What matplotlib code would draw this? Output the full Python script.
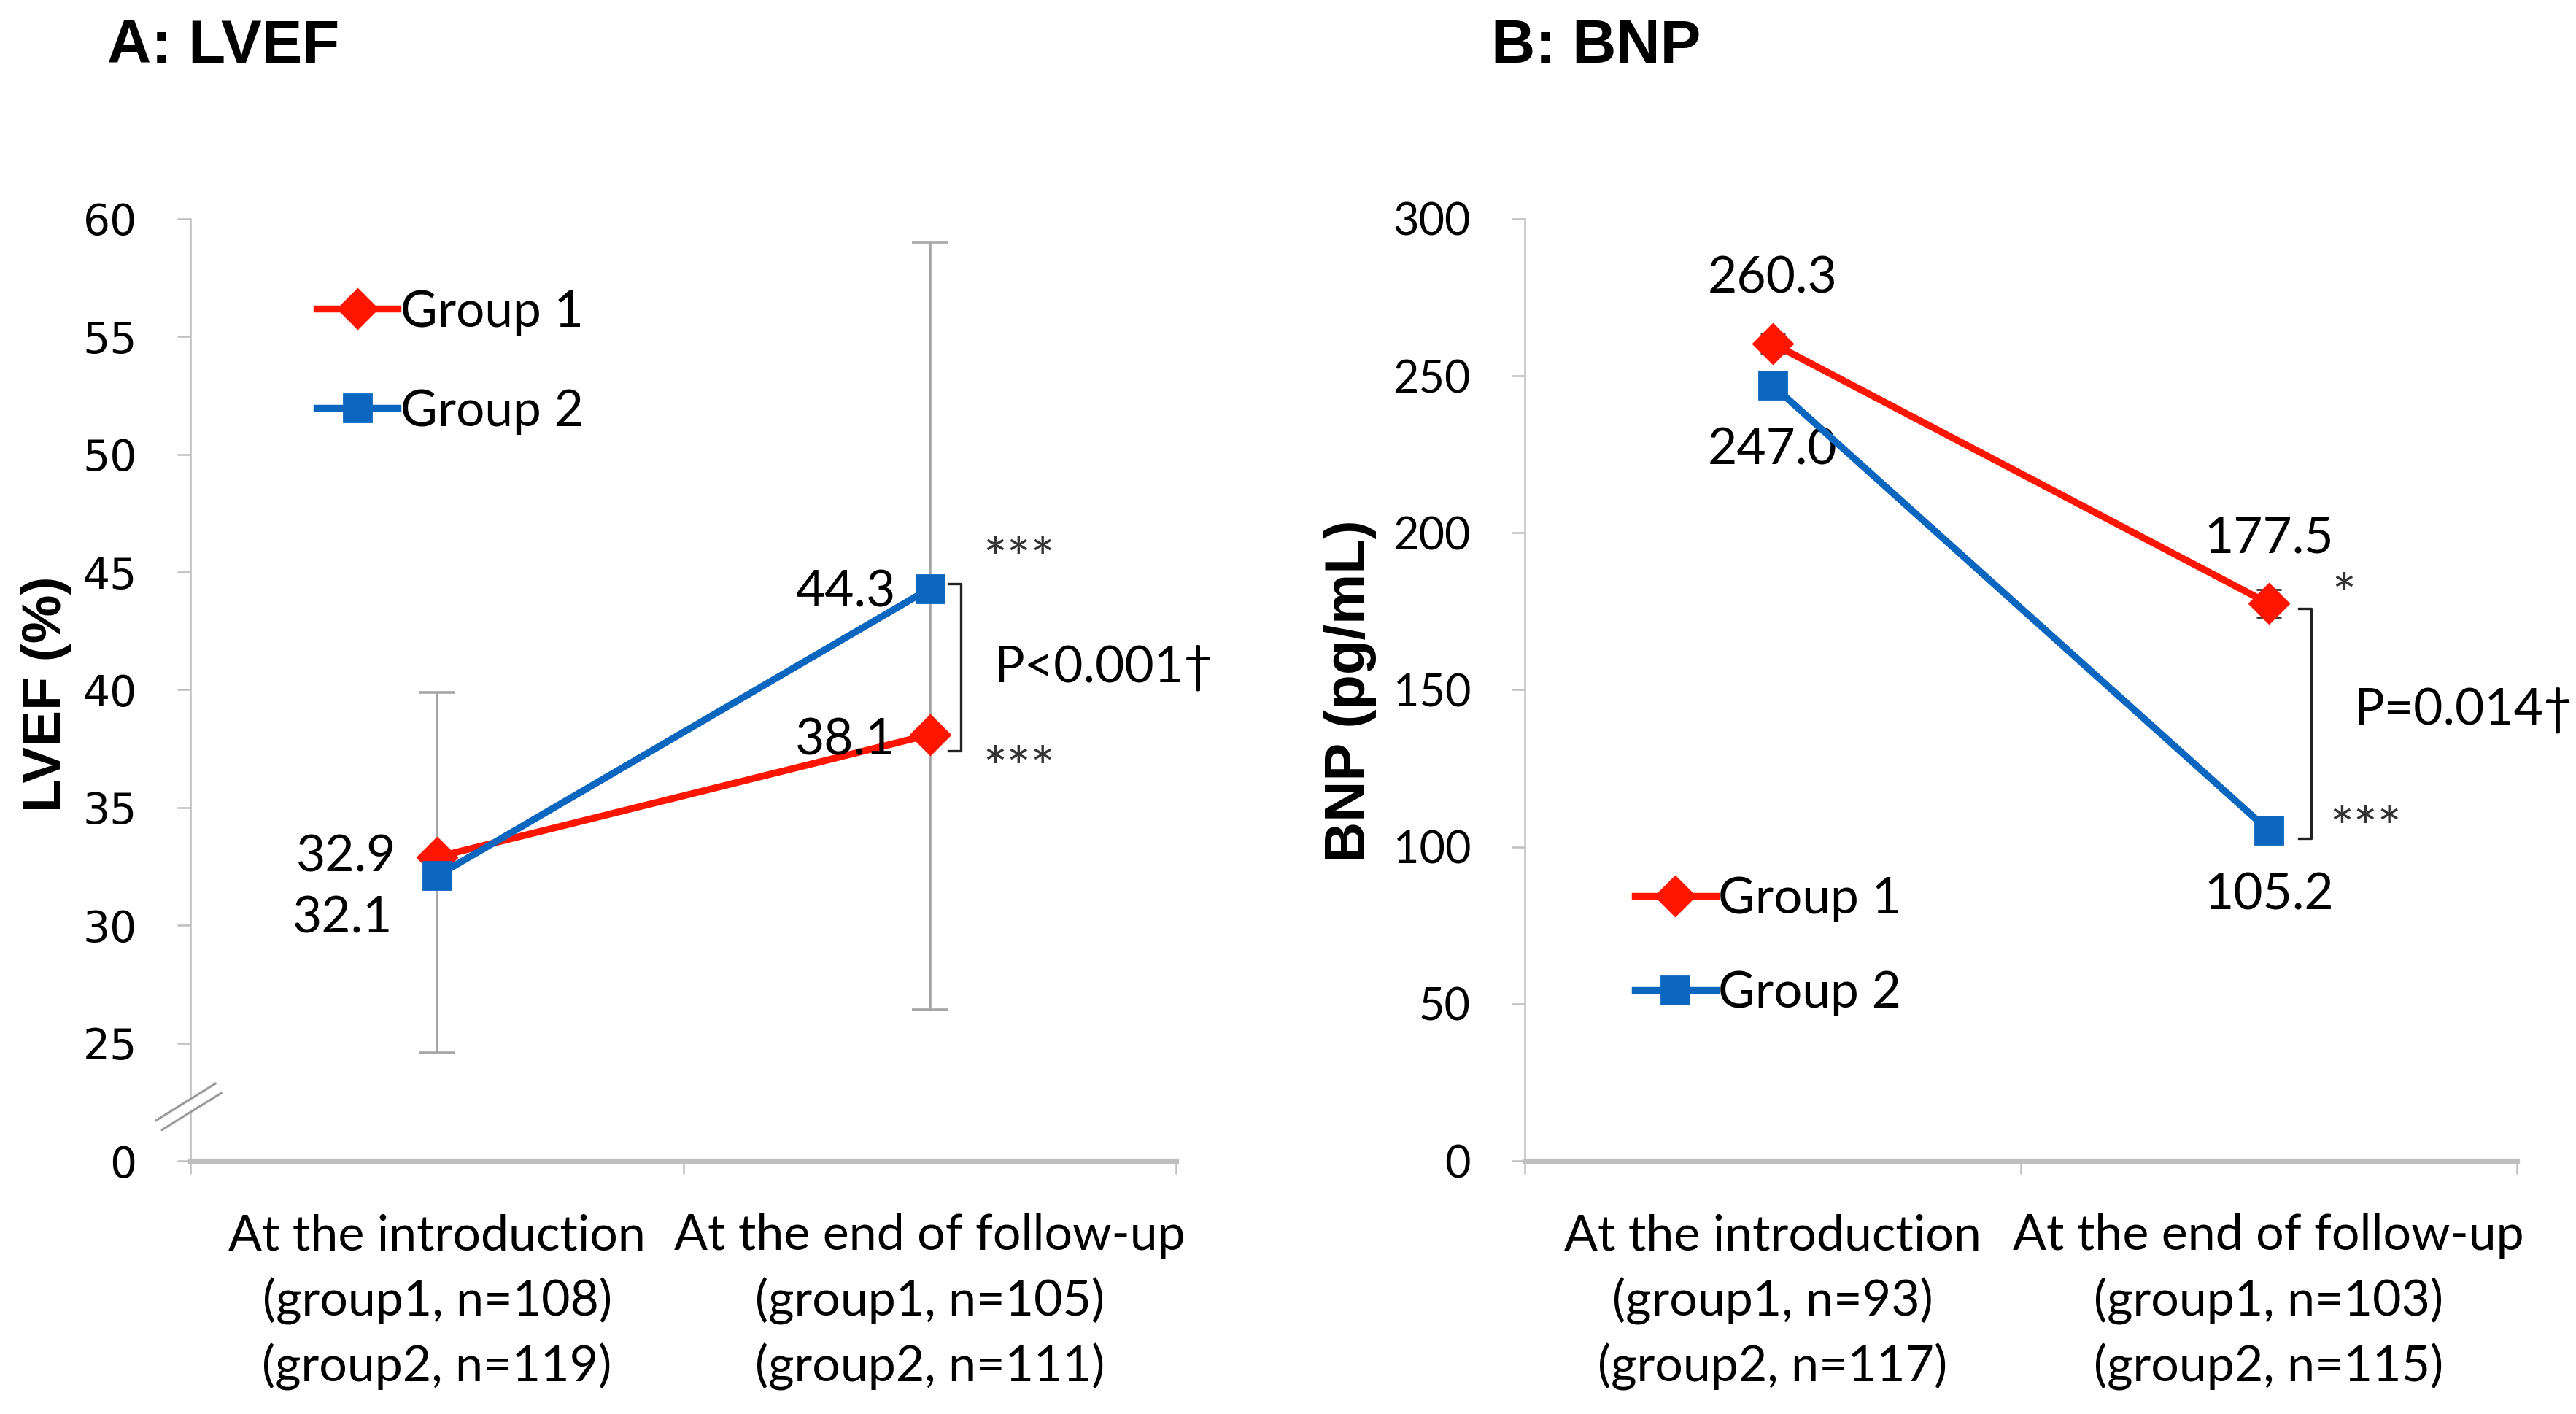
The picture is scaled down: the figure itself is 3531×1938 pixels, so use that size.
import matplotlib
matplotlib.use('Agg')
import matplotlib.pyplot as plt
import numpy as np

# categorias e valores
cats_lvef = ["At the introduction\n(group1, n=108)\n(group2, n=119)",
             "At the end of follow-up\n(group1, n=105)\n(group2, n=111)"]
cats_bnp = ["At the introduction\n(group1, n=93)\n(group2, n=117)",
            "At the end of follow-up\n(group1, n=103)\n(group2, n=115)"]

lvef_g1 = [32.9, 38.1]
lvef_g2 = [32.1, 44.3]
lvef_err_low = [24.6, 26.4]
lvef_err_high = [39.9, 59.0]

bnp_g1 = [260.3, 177.5]
bnp_g2 = [247.0, 105.2]
bnp_err_g1 = [3.0, 4.5]
bnp_err_g2 = [3.0, 4.2]

lvef_ticks = [20, 25, 30, 35, 40, 45, 50, 55, 60]
lvef_ticklabels = ["0", "25", "30", "35", "40", "45", "50", "55", "60"]
bnp_ticks = [0, 50, 100, 150, 200, 250, 300]

RED = "#FF1500"
BLUE = "#0A66BE"
GRAY = "#BFBFBF"
LBL = "Lato"

fig = plt.figure(figsize=(17.655, 9.69), dpi=200)
ax1 = fig.add_axes([0.074, 0.179, 0.3826, 0.6663])
ax2 = fig.add_axes([0.5918, 0.179, 0.3852, 0.6663])

x = np.arange(2)


def style_axes(ax, cats):
    for s in ["top", "right"]:
        ax.spines[s].set_visible(False)
    ax.spines["left"].set_color(GRAY)
    ax.spines["left"].set_linewidth(0.9)
    ax.spines["bottom"].set_color(GRAY)
    ax.spines["bottom"].set_linewidth(2.6)
    ax.set_xlim(-0.5, 1.5)
    ax.set_xticks([-0.5, 0.5, 1.5])
    ax.set_xticklabels([])
    ax.set_xticks([0, 1], minor=True)
    ax.set_xticklabels(cats, minor=True, family=LBL, fontsize=24.5, linespacing=1.48)
    ax.tick_params(axis="x", which="major", direction="out", length=6.5, width=0.9, color=GRAY)
    ax.tick_params(axis="x", which="minor", length=0, pad=26)
    ax.tick_params(axis="y", direction="out", length=6.5, width=0.9, color=GRAY, pad=20)


# ---- A: LVEF ----
style_axes(ax1, cats_lvef)
mid = [(a + b) / 2 for a, b in zip(lvef_err_low, lvef_err_high)]
half = [(b - a) / 2 for a, b in zip(lvef_err_low, lvef_err_high)]
ax1.errorbar(x, mid, yerr=half, fmt="none", ecolor="#A6A6A6", elinewidth=1.3,
             capsize=9, capthick=1.3, zorder=1)
l1, = ax1.plot(x, lvef_g1, color=RED, lw=3.4, marker="D", markersize=14, label="Group 1", zorder=3)
l2, = ax1.plot(x, lvef_g2, color=BLUE, lw=3.4, marker="s", markersize=14, label="Group 2", zorder=4)
ax1.set_ylim(20, 60)
ax1.set_yticks(lvef_ticks)
ax1.set_yticklabels(lvef_ticklabels, fontsize=21, family="DejaVu Sans")

ax1.annotate(f"{lvef_g1[0]:.1f}", (0, lvef_g1[0]), xytext=(-20, 0), textcoords="offset points",
             ha="right", va="center", fontsize=25, family=LBL)
ax1.annotate(f"{lvef_g2[0]:.1f}", (0, lvef_g2[0]), xytext=(-22, -21), textcoords="offset points",
             ha="right", va="center", fontsize=25, family=LBL)
ax1.annotate(f"{lvef_g2[1]:.1f}", (1, lvef_g2[1]), xytext=(-17, -2), textcoords="offset points",
             ha="right", va="center", fontsize=25, family=LBL)
ax1.annotate(f"{lvef_g1[1]:.1f}", (1, lvef_g1[1]), xytext=(-17, -3), textcoords="offset points",
             ha="right", va="center", fontsize=25, family=LBL)

# bracket + p value
top, bot = lvef_g2[1] + 0.2, lvef_g1[1] - 0.7
ax1.plot([1.037, 1.063, 1.063, 1.037], [top, top, bot, bot], color="#222222", lw=1.2)
ax1.text(1.18, top + 0.9, "***", ha="center", va="center", fontsize=28, family=LBL, color="#333333")
ax1.text(1.18, bot - 0.9, "***", ha="center", va="center", fontsize=28, family=LBL, color="#333333")
ax1.text(1.13, (top + bot) / 2, "P<0.001\u2020", ha="left", va="center", fontsize=25, family=LBL)

# axis break mark
p0 = np.array([-0.032, 0.038])
p1 = np.array([0.028, 0.077])
off = np.array([-0.003, 0.005])
ax1.plot([p0[0], p1[0]], [p0[1], p1[1]], transform=ax1.transAxes, color="white", lw=6,
         clip_on=False, zorder=5, solid_capstyle="butt")
for sgn in (1, -1):
    ax1.plot([p0[0] + sgn * off[0], p1[0] + sgn * off[0]], [p0[1] + sgn * off[1], p1[1] + sgn * off[1]],
             transform=ax1.transAxes, color="#999999", lw=1.1, clip_on=False, zorder=6)

ax1.legend(handles=[l1, l2], loc="upper left", bbox_to_anchor=(0.128, 0.925), frameon=False,
           borderpad=0, borderaxespad=0, handlelength=1.6, handletextpad=0.05, labelspacing=1.05,
           prop={"family": LBL, "size": 25})

# ---- B: BNP ----
style_axes(ax2, cats_bnp)
ax2.errorbar(x, bnp_g1, yerr=bnp_err_g1, fmt="none", ecolor="#333333", elinewidth=1.0,
             capsize=6, capthick=1.0, zorder=1)
ax2.errorbar(x, bnp_g2, yerr=bnp_err_g2, fmt="none", ecolor="#333333", elinewidth=1.0,
             capsize=6, capthick=1.0, zorder=1)
r1, = ax2.plot(x, bnp_g1, color=RED, lw=3.4, marker="D", markersize=14, label="Group 1", zorder=3)
r2, = ax2.plot(x, bnp_g2, color=BLUE, lw=3.4, marker="s", markersize=14, label="Group 2", zorder=4)
ax2.set_ylim(0, 300)
ax2.set_yticks(bnp_ticks)
ax2.set_yticklabels([str(t) for t in bnp_ticks], fontsize=22, family=LBL)

for i in range(2):
    ax2.annotate(f"{bnp_g1[i]:.1f}", (i, bnp_g1[i]), xytext=(0, 32), textcoords="offset points",
                 ha="center", va="center", fontsize=25, family=LBL)
    ax2.annotate(f"{bnp_g2[i]:.1f}", (i, bnp_g2[i]), xytext=(0, -32), textcoords="offset points",
                 ha="center", va="center", fontsize=25, family=LBL)

top, bot = bnp_g1[1] - 1.6, bnp_g2[1] - 2.6
ax2.plot([1.06, 1.086, 1.086, 1.06], [top, top, bot, bot], color="#222222", lw=1.2)
ax2.text(1.152, top + 3, "*", ha="center", va="center", fontsize=28, family=LBL, color="#333333")
ax2.text(1.195, bot + 2, "***", ha="center", va="center", fontsize=28, family=LBL, color="#333333")
ax2.text(1.172, 143.5, "P=0.014\u2020", ha="left", va="center", fontsize=25, family=LBL)

ax2.legend(handles=[r1, r2], loc="upper left", bbox_to_anchor=(0.111, 0.302), frameon=False,
           borderpad=0, borderaxespad=0, handlelength=1.6, handletextpad=0.05, labelspacing=0.95,
           prop={"family": LBL, "size": 25})

# titles and y labels
fig.text(0.0415, 0.967, "A: LVEF", ha="left", va="center", fontsize=30, fontweight="bold",
         family="Liberation Sans")
fig.text(0.579, 0.967, "B: BNP", ha="left", va="center", fontsize=30, fontweight="bold",
         family="Liberation Sans")
fig.text(0.018, 0.509, "LVEF (%)", rotation=90, ha="center", va="center", fontsize=27,
         fontweight="bold", family="Liberation Sans")
fig.text(0.524, 0.511, "BNP (pg/mL)", rotation=90, ha="center", va="center", fontsize=28,
         fontweight="bold", family="Liberation Sans")

plt.savefig("out.png", dpi=200)
